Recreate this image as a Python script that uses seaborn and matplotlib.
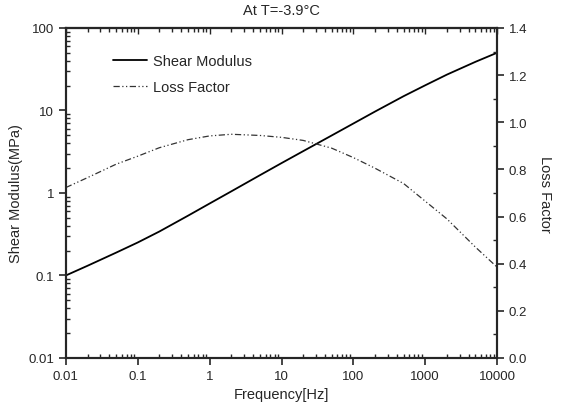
import numpy as np
import matplotlib
matplotlib.use('Agg')
import matplotlib.pyplot as plt
import matplotlib.ticker as mticker
import pandas as pd
import seaborn as sns

freq = [0.01, 0.02, 0.05, 0.1, 0.2, 0.5, 1, 2, 5, 10, 20, 50, 100, 200, 500, 1000, 2000, 5000, 10000]
shear_modulus = [0.100, 0.131, 0.189, 0.251, 0.341, 0.530, 0.745, 1.045, 1.64, 2.30, 3.21, 4.98,
                 6.95, 9.70, 14.9, 20.2, 27.2, 38.9, 50.1]
loss_factor = [0.723, 0.765, 0.822, 0.856, 0.892, 0.926, 0.942, 0.949, 0.944, 0.936, 0.923, 0.89,
               0.85, 0.805, 0.74, 0.665, 0.59, 0.47, 0.385]

df = pd.DataFrame({'freq': freq, 'G': shear_modulus, 'eta': loss_factor})

sns.set_style('ticks')
plt.rcParams['font.family'] = ['Liberation Sans', 'DejaVu Sans']
plt.rcParams['axes.linewidth'] = 1.5

fig = plt.figure(figsize=(5.63, 4.14), dpi=100)
ax = fig.add_axes([0.117, 0.133, 0.766, 0.797])
ax2 = ax.twinx()

sns.lineplot(data=df, x='freq', y='G', ax=ax, color='black', lw=1.3, label='Shear Modulus', legend=False)
sns.lineplot(data=df, x='freq', y='eta', ax=ax2, color='#333333', lw=0.9,
             linestyle=(0, (5, 2, 1, 2, 1, 2)), label='Loss Factor', legend=False)

ax.set_xscale('log')
ax.set_yscale('log')
ax.set_xlim(0.01, 10000)
ax.set_ylim(0.01, 100)
ax2.set_ylim(0, 1.4)

ax.xaxis.set_major_locator(mticker.LogLocator(base=10, numticks=10))
ax.xaxis.set_major_formatter(mticker.FuncFormatter(lambda v, p: f'{v:g}'))
ax.yaxis.set_major_formatter(mticker.FuncFormatter(lambda v, p: f'{v:g}'))
ax.xaxis.set_minor_locator(mticker.LogLocator(base=10, subs=np.arange(2, 10), numticks=20))
ax.yaxis.set_minor_locator(mticker.LogLocator(base=10, subs=np.arange(2, 10), numticks=20))
ax.xaxis.set_minor_formatter(mticker.NullFormatter())
ax.yaxis.set_minor_formatter(mticker.NullFormatter())
ax2.yaxis.set_major_locator(mticker.MultipleLocator(0.2))
ax2.yaxis.set_minor_locator(mticker.MultipleLocator(0.1))
ax2.yaxis.set_major_formatter(mticker.FormatStrFormatter('%.1f'))

ax.tick_params(which='major', direction='out', length=5, width=1.2, labelsize=9.5)
ax.tick_params(which='minor', direction='in', length=3, width=1)
ax2.tick_params(which='major', direction='out', length=5, width=1.2, labelsize=9.5)
ax2.tick_params(which='minor', direction='in', length=3, width=1)

top = ax.secondary_xaxis('top')
top.set_xscale('log')
top.tick_params(which='both', direction='in', labeltop=False, length=4, width=1)
top.tick_params(which='minor', length=3)

ax.set_xlabel('Frequency[Hz]', fontsize=10.5)
ax.set_ylabel('Shear Modulus(MPa)', fontsize=10.5)
ax2.set_ylabel('Loss Factor', fontsize=10.5, rotation=270, labelpad=18)
ax.set_title('At T=-3.9°C', fontsize=10.5, pad=10)

h1, l1 = ax.get_legend_handles_labels()
h2, l2 = ax2.get_legend_handles_labels()
ax.legend(h1 + h2, l1 + l2, loc='upper left', bbox_to_anchor=(0.08, 0.96), frameon=False,
          fontsize=10.5, handlelength=2.3, handletextpad=0.4, labelspacing=0.8)

fig.savefig('out.png', dpi=100)
